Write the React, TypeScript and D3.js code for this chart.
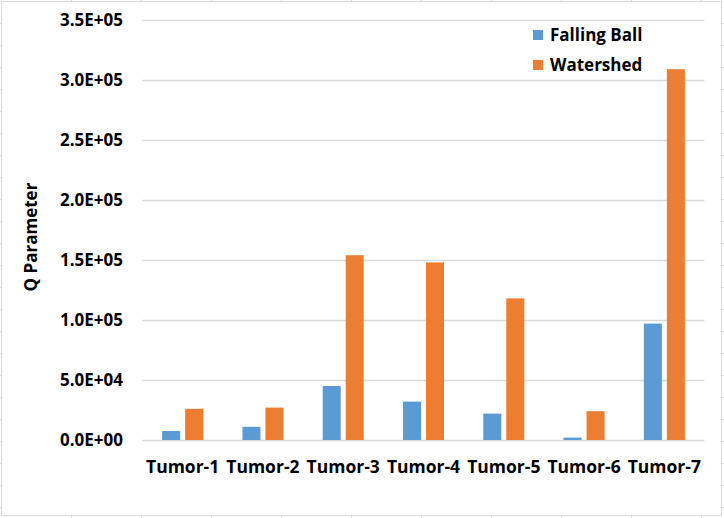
import React, { useEffect, useRef } from "react";
import * as d3 from "d3";

const categories = ["Tumor-1", "Tumor-2", "Tumor-3", "Tumor-4", "Tumor-5", "Tumor-6", "Tumor-7"];
const seriesNames = ["Falling Ball", "Watershed"];
const fallingBall = [7500, 11000, 45000, 32000, 22000, 2000, 97000];
const watershed = [26000, 27000, 154000, 148000, 118000, 24000, 309000];
const yTicks = [0, 50000, 100000, 150000, 200000, 250000, 300000, 350000];

const App = () => {
  const svgRef = useRef<SVGSVGElement | null>(null);

  useEffect(() => {
    const width = 724;
    const height = 518;
    const font = "'Open Sans', 'Noto Sans', sans-serif";
    const colors = ["#5B9BD5", "#ED7D31"];
    const gridColor = "#D9D9D9";

    const svg = d3.select(svgRef.current);
    svg.selectAll("*").remove();
    svg.attr("width", width).attr("height", height);

    svg.append("rect").attr("width", width).attr("height", height).attr("fill", "#fff");

    // spreadsheet cell lines peeking out around the chart
    const outer = svg.append("g").attr("stroke", gridColor).attr("stroke-width", 1);
    d3.range(71, width, 70).forEach((x) => {
      outer.append("line").attr("x1", x + 0.5).attr("x2", x + 0.5).attr("y1", 0).attr("y2", 2);
      outer.append("line").attr("x1", x + 0.5).attr("x2", x + 0.5).attr("y1", 515).attr("y2", height);
    });
    d3.range(23, height, 22).forEach((y) => {
      outer.append("line").attr("x1", 0).attr("x2", 2).attr("y1", y + 0.5).attr("y2", y + 0.5);
      outer.append("line").attr("x1", 721).attr("x2", width).attr("y1", y + 0.5).attr("y2", y + 0.5);
    });

    // chart frame
    svg
      .append("rect")
      .attr("x", 1.5)
      .attr("y", 1.5)
      .attr("width", 720)
      .attr("height", 514)
      .attr("fill", "#fff")
      .attr("stroke", gridColor);

    const plot = { left: 142.5, right: 704.5, top: 20, bottom: 440 };

    const y = d3.scaleLinear().domain([0, 350000]).range([plot.bottom, plot.top]);

    const x0 = d3
      .scaleBand()
      .domain(categories)
      .range([plot.left, plot.right])
      .paddingInner(0.489)
      .paddingOuter(0.2445);

    const x1 = d3
      .scaleBand()
      .domain(seriesNames)
      .range([0, x0.bandwidth()])
      .paddingInner(0.217);

    // gridlines
    svg
      .append("g")
      .selectAll("line")
      .data(yTicks)
      .join("line")
      .attr("x1", plot.left)
      .attr("x2", plot.right)
      .attr("y1", (d) => Math.round(y(d)) + 0.5)
      .attr("y2", (d) => Math.round(y(d)) + 0.5)
      .attr("stroke", gridColor)
      .attr("stroke-width", 1.3);

    // y tick labels
    svg
      .append("g")
      .selectAll("text")
      .data(yTicks)
      .join("text")
      .attr("x", 123)
      .attr("y", (d) => y(d))
      .attr("dy", "0.35em")
      .attr("text-anchor", "end")
      .style("font-family", font)
      .style("font-size", "17px")
      .style("font-weight", "bold")
      .style("fill", "#000")
      .text((d) => {
        const [m, e] = d.toExponential(1).split("e");
        const exp = Math.abs(+e).toString().padStart(2, "0");
        return `${m}E${+e < 0 ? "-" : "+"}${exp}`.toUpperCase();
      });

    // bars
    const series = [fallingBall, watershed];
    const groups = svg
      .append("g")
      .selectAll("g")
      .data(categories)
      .join("g")
      .attr("transform", (d) => `translate(${x0(d)},0)`);

    groups
      .selectAll("rect")
      .data((d, i) => seriesNames.map((name, s) => ({ name, s, value: series[s][i] })))
      .join("rect")
      .attr("x", (d) => x1(d.name)!)
      .attr("width", x1.bandwidth())
      .attr("y", (d) => y(d.value))
      .attr("height", (d) => plot.bottom - y(d.value))
      .attr("fill", (d) => colors[d.s]);

    // x labels
    svg
      .append("g")
      .selectAll("text")
      .data(categories)
      .join("text")
      .attr("x", (d) => x0(d)! + x0.bandwidth() / 2)
      .attr("y", 467)
      .attr("dy", "0.35em")
      .attr("text-anchor", "middle")
      .style("font-family", font)
      .style("font-size", "17.5px")
      .style("font-weight", "bold")
      .text((d) => d);

    // y axis title
    svg
      .append("text")
      .attr("transform", "translate(31,237) rotate(-90)")
      .attr("dy", "0.35em")
      .attr("text-anchor", "middle")
      .style("font-family", font)
      .style("font-size", "17px")
      .style("font-weight", "bold")
      .text("Q Parameter");

    // legend
    const legend = svg.append("g").attr("transform", "translate(533,30)");
    seriesNames.forEach((name, i) => {
      const row = legend.append("g").attr("transform", `translate(0,${i * 30})`);
      row.append("rect").attr("width", 10).attr("height", 10).attr("fill", colors[i]);
      row
        .append("text")
        .attr("x", 17)
        .attr("y", 5)
        .attr("dy", "0.35em")
        .style("font-family", font)
        .style("font-size", "17px")
        .style("font-weight", "bold")
        .text(name);
    });
  }, []);

  return <svg ref={svgRef} style={{ position: "absolute", left: 0, top: 0 }}></svg>;
};

export default App;
